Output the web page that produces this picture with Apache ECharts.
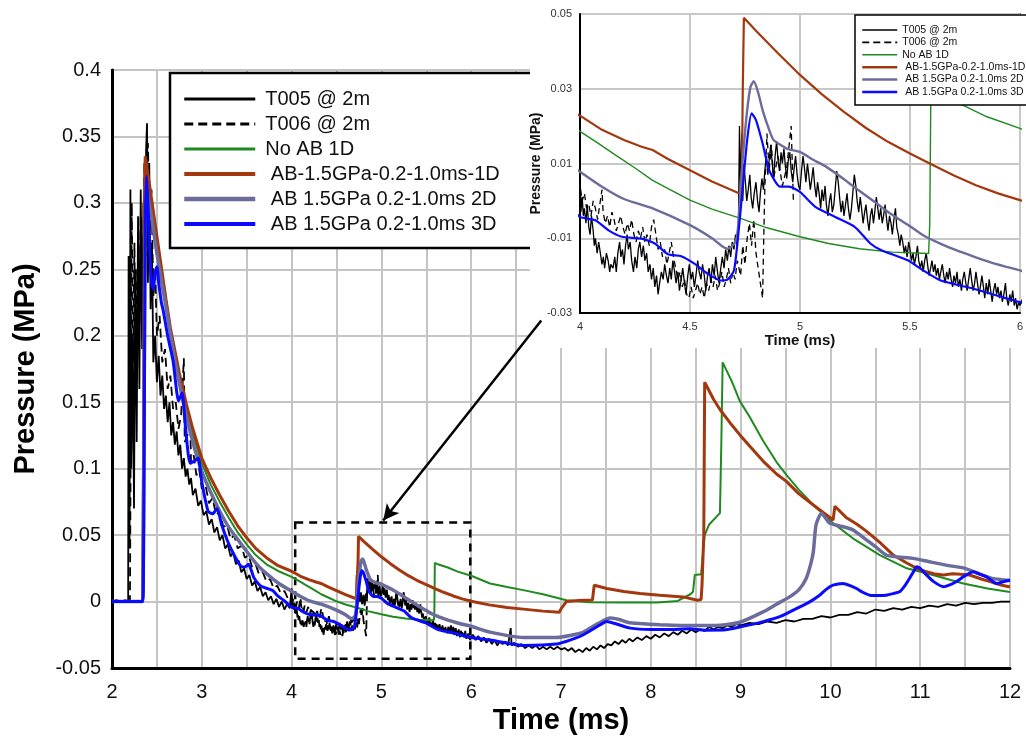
<!DOCTYPE html>
<html>
<head>
<meta charset="utf-8">
<script src="https://cdn.jsdelivr.net/npm/echarts@6.0.0/dist/echarts.min.js"></script>
<style>
  html, body { margin: 0; padding: 0; background: #fff; }
  #chart { width: 1026px; height: 742px; }
</style>
</head>
<body>
<div id="chart"></div>
<script>
// ---- Series names ----
const seriesNames = ['T005 @ 2m', 'T006 @ 2m', 'No AB 1D',
  ' AB-1.5GPa-0.2-1.0ms-1D', ' AB 1.5GPa 0.2-1.0ms 2D', ' AB 1.5GPa 0.2-1.0ms 3D'];

// ---- Measured gauge T005, [time ms, pressure MPa] ----
const t005 = [
  [2.0,0],[2.05,0.001],[2.1,0],[2.15,0.001],[2.18,0.0],[2.185,0.26],[2.195,0.04],[2.205,0.31],[2.215,0.1],[2.23,0.2],
  [2.245,0.07],[2.26,0.25],[2.275,0.12],[2.29,0.29],[2.305,0.16],[2.32,0.31],[2.335,0.19],[2.35,0.3],[2.365,0.2],[2.38,0.34],
  [2.39,0.36],[2.4,0.24],[2.415,0.33],[2.43,0.22],[2.445,0.27],[2.46,0.18],[2.48,0.2],[2.5,0.165],[2.52,0.185],[2.54,0.155],
  [2.56,0.17],[2.58,0.145],[2.6,0.155],[2.62,0.135],[2.64,0.15],[2.66,0.125],[2.68,0.135],[2.7,0.118],[2.72,0.128],[2.74,0.11],
  [2.76,0.118],[2.78,0.1],[2.8,0.108],[2.82,0.094],[2.84,0.1],[2.86,0.088],[2.88,0.093],[2.9,0.08],[2.93,0.085],[2.96,0.072],
  [2.99,0.076],[3.02,0.065],[3.05,0.068],[3.08,0.058],[3.11,0.062],[3.14,0.052],[3.17,0.056],[3.2,0.046],[3.23,0.05],[3.26,0.04],
  [3.29,0.043],[3.32,0.034],[3.35,0.037],[3.38,0.028],[3.41,0.031],[3.44,0.022],[3.47,0.025],[3.5,0.017],[3.53,0.02],[3.56,0.012],
  [3.59,0.015],[3.62,0.008],[3.65,0.011],[3.68,0.004],[3.71,0.007],[3.74,0.001],[3.77,0.004],[3.8,-0.002],[3.83,0.002],[3.86,-0.004],
  [3.89,0.0],[3.92,-0.006],[3.95,-0.002],[3.98,-0.005],
  [4.0,0.01],[4.004,-0.003],[4.01,0.001],[4.015,-0.004],[4.02,-0.002],[4.027,-0.006],[4.033,-0.001],[4.04,-0.007],[4.046,-0.009],[4.052,-0.004],
  [4.06,-0.008],[4.065,-0.012],[4.07,-0.01],[4.078,-0.014],[4.085,-0.011],[4.09,-0.013],[4.1,-0.017],[4.106,-0.015],[4.112,-0.018],[4.12,-0.014],
  [4.128,-0.016],[4.135,-0.019],[4.14,-0.017],[4.15,-0.018],[4.158,-0.015],[4.165,-0.019],[4.172,-0.014],[4.18,-0.011],[4.186,-0.015],[4.193,-0.013],
  [4.2,-0.017],[4.207,-0.012],[4.214,-0.009],[4.22,-0.013],[4.228,-0.011],[4.235,-0.016],[4.243,-0.019],[4.25,-0.015],[4.258,-0.018],[4.265,-0.013],
  [4.272,-0.011],[4.28,-0.015],[4.288,-0.012],[4.295,-0.016],[4.303,-0.014],[4.31,-0.019],[4.318,-0.017],[4.325,-0.021],[4.333,-0.018],[4.34,-0.023],
  [4.348,-0.02],[4.355,-0.025],[4.362,-0.022],[4.37,-0.019],[4.378,-0.021],[4.385,-0.017],[4.393,-0.02],[4.4,-0.022],[4.408,-0.018],[4.415,-0.021],
  [4.422,-0.016],[4.43,-0.019],[4.437,-0.022],[4.445,-0.019],[4.452,-0.024],[4.46,-0.021],[4.467,-0.018],[4.475,-0.022],[4.482,-0.025],[4.49,-0.02],
  [4.497,-0.017],[4.505,-0.021],[4.512,-0.019],[4.52,-0.023],[4.527,-0.02],[4.535,-0.016],[4.542,-0.019],[4.55,-0.021],[4.557,-0.017],[4.565,-0.02],
  [4.572,-0.024],[4.58,-0.02],[4.587,-0.018],[4.595,-0.022],[4.602,-0.017],[4.61,-0.02],[4.617,-0.015],[4.625,-0.019],[4.632,-0.022],[4.64,-0.018],
  [4.647,-0.015],[4.655,-0.018],[4.662,-0.013],[4.67,-0.016],[4.677,-0.012],[4.685,-0.015],[4.692,-0.011],[4.7,-0.013],[4.707,-0.009],[4.714,-0.012],
  [4.72,-0.008],[4.725,0.02],[4.73,0.002],[4.735,0.018],[4.74,0.0],[4.745,0.01],[4.752,0.005],[4.758,0.0],[4.765,0.003],[4.772,0.007],
  [4.778,0.001],[4.785,-0.002],[4.792,0.002],[4.8,0.005],[4.807,0.0],[4.814,-0.003],[4.82,0.002],[4.827,0.006],[4.834,0.003],[4.84,0.008],
  [4.847,0.012],[4.854,0.007],[4.86,0.011],[4.867,0.015],[4.874,0.01],[4.88,0.006],[4.887,0.012],[4.894,0.016],[4.9,0.011],[4.907,0.008],
  [4.914,0.013],[4.92,0.01],[4.927,0.014],[4.934,0.009],[4.94,0.006],[4.947,0.011],[4.954,0.013],[4.96,0.008],[4.967,0.005],[4.974,0.009],
  [4.98,0.012],[4.987,0.007],[4.994,0.004],
  [5.0,0.003],[5.007,0.008],[5.014,0.012],[5.02,0.009],[5.027,0.005],[5.034,0.01],[5.04,0.007],[5.047,0.003],[5.054,0.006],[5.06,0.009],
  [5.067,0.004],[5.074,0.001],[5.08,0.005],[5.087,0.002],[5.094,-0.002],[5.1,0.003],[5.107,0.0],[5.114,0.004],[5.12,-0.001],[5.127,-0.004],
  [5.134,0.0],[5.14,0.002],[5.147,-0.003],[5.154,-0.001],[5.16,0.003],[5.167,0.008],[5.174,0.005],[5.18,0.001],[5.187,-0.003],[5.194,0.0],
  [5.2,-0.004],[5.207,-0.001],[5.214,0.002],[5.22,-0.002],[5.227,-0.005],[5.234,-0.002],[5.24,0.002],[5.247,0.007],[5.254,0.004],[5.26,0.0],
  [5.267,-0.003],[5.274,0.001],[5.28,-0.002],[5.287,-0.006],[5.294,-0.003],[5.3,-0.001],[5.307,-0.005],[5.314,-0.008],[5.32,-0.004],[5.327,-0.002],
  [5.334,-0.006],[5.34,-0.003],[5.347,0.001],[5.354,-0.002],[5.36,-0.005],[5.367,-0.002],[5.374,-0.006],[5.38,-0.004],[5.387,-0.001],[5.394,-0.005],
  [5.4,-0.008],[5.407,-0.004],[5.414,-0.006],[5.42,-0.009],[5.427,-0.005],[5.434,-0.002],[5.44,-0.007],[5.447,-0.009],[5.454,-0.012],[5.46,-0.009],
  [5.467,-0.011],[5.474,-0.014],[5.48,-0.012],[5.487,-0.015],[5.494,-0.011],[5.5,-0.013],[5.507,-0.016],[5.514,-0.014],[5.52,-0.017],[5.527,-0.015],
  [5.534,-0.012],[5.54,-0.016],[5.547,-0.018],[5.554,-0.016],[5.56,-0.019],[5.567,-0.016],[5.574,-0.014],[5.58,-0.017],[5.587,-0.02],[5.594,-0.018],
  [5.6,-0.016],[5.607,-0.019],[5.614,-0.017],[5.62,-0.02],[5.627,-0.018],[5.634,-0.021],[5.64,-0.019],[5.647,-0.017],[5.654,-0.02],[5.66,-0.022],
  [5.667,-0.019],[5.674,-0.021],[5.68,-0.018],[5.687,-0.021],[5.694,-0.023],[5.7,-0.02],[5.707,-0.022],[5.714,-0.019],[5.72,-0.023],[5.727,-0.021],
  [5.734,-0.024],[5.74,-0.021],[5.747,-0.019],[5.754,-0.022],[5.76,-0.024],[5.767,-0.021],[5.774,-0.018],[5.78,-0.021],[5.787,-0.024],[5.794,-0.022],
  [5.8,-0.019],[5.807,-0.022],[5.814,-0.025],[5.82,-0.023],[5.827,-0.02],[5.834,-0.023],[5.84,-0.026],[5.847,-0.022],[5.854,-0.025],[5.86,-0.021],
  [5.867,-0.024],[5.874,-0.027],[5.88,-0.024],[5.887,-0.022],[5.894,-0.025],[5.9,-0.023],[5.907,-0.026],[5.914,-0.024],[5.92,-0.027],[5.927,-0.025],
  [5.934,-0.022],[5.94,-0.026],[5.947,-0.028],[5.954,-0.025],[5.96,-0.027],[5.967,-0.024],[5.974,-0.028],[5.98,-0.026],[5.987,-0.029],[5.994,-0.027],
  [6.0,-0.028],
  [6.02,-0.025],[6.05,-0.029],[6.08,-0.026],[6.11,-0.03],[6.14,-0.027],[6.17,-0.031],[6.2,-0.028],[6.23,-0.032],[6.26,-0.029],[6.29,-0.033],
  [6.32,-0.03],[6.35,-0.032],[6.38,-0.03],[6.41,-0.033],[6.44,-0.02],[6.45,-0.033],[6.48,-0.031],[6.52,-0.034],[6.56,-0.032],[6.6,-0.035],
  [6.64,-0.033],[6.68,-0.035],[6.72,-0.033],[6.76,-0.036],[6.8,-0.034],[6.84,-0.036],[6.88,-0.034],[6.92,-0.036],[6.96,-0.034],[7.0,-0.036],
  [7.04,-0.035],[7.08,-0.037],[7.12,-0.035],[7.16,-0.038],[7.2,-0.036],[7.24,-0.038],[7.28,-0.035],[7.32,-0.037],[7.36,-0.034],[7.4,-0.036],
  [7.44,-0.033],[7.48,-0.035],[7.52,-0.032],[7.56,-0.033],[7.6,-0.03],[7.64,-0.032],[7.68,-0.029],[7.72,-0.031],[7.76,-0.028],[7.8,-0.03],
  [7.85,-0.027],[7.9,-0.029],[7.95,-0.026],[8.0,-0.028],[8.05,-0.025],[8.1,-0.027],[8.15,-0.024],[8.2,-0.026],[8.25,-0.023],[8.3,-0.025],
  [8.35,-0.022],[8.4,-0.024],[8.45,-0.021],[8.5,-0.023],[8.55,-0.021],[8.6,-0.022],[8.65,-0.019],[8.7,-0.021],[8.75,-0.019],[8.8,-0.02],
  [8.85,-0.018],[8.9,-0.019],[8.95,-0.017],[9.0,-0.018],[9.1,-0.016],[9.2,-0.017],[9.3,-0.015],[9.4,-0.016],[9.5,-0.014],[9.6,-0.015],
  [9.7,-0.013],[9.8,-0.013],[9.9,-0.011],[10.0,-0.012],[10.1,-0.01],[10.2,-0.01],[10.3,-0.008],[10.4,-0.009],[10.5,-0.006],[10.6,-0.007],
  [10.7,-0.005],[10.8,-0.006],[10.9,-0.004],[11.0,-0.005],[11.1,-0.003],[11.2,-0.004],[11.3,-0.002],[11.4,-0.003],[11.5,-0.001],[11.6,-0.002],
  [11.7,-0.001],[11.8,-0.001],[11.9,0.0],[12.0,0.0]
];

// ---- Measured gauge T006 (record ends near 5 ms) ----
const t006 = [
  [2.0,0],[2.1,0],[2.2,0.001],[2.215,0.002],[2.22,0.3],[2.235,0.18],[2.25,0.27],[2.265,0.15],[2.28,0.25],[2.3,0.19],
  [2.32,0.29],[2.34,0.21],[2.36,0.33],[2.38,0.26],[2.4,0.345],[2.42,0.28],[2.44,0.31],[2.46,0.23],[2.48,0.25],[2.5,0.2],
  [2.53,0.215],[2.56,0.18],[2.59,0.19],[2.62,0.16],[2.65,0.17],[2.68,0.145],[2.71,0.15],[2.74,0.13],[2.77,0.14],[2.8,0.183],
  [2.81,0.12],[2.84,0.125],[2.87,0.136],[2.88,0.105],[2.91,0.11],[2.94,0.095],[2.97,0.1],[3.0,0.085],[3.04,0.088],[3.08,0.074],
  [3.12,0.078],[3.16,0.065],[3.2,0.068],[3.24,0.056],[3.28,0.058],[3.32,0.047],[3.36,0.05],[3.4,0.04],[3.44,0.042],[3.48,0.033],
  [3.52,0.035],[3.56,0.026],[3.6,0.028],[3.64,0.02],[3.68,0.022],[3.72,0.015],[3.76,0.017],[3.8,0.01],[3.84,0.012],[3.88,0.006],
  [3.92,0.008],[3.96,0.002],
  [4.0,0.004],[4.01,0.0],[4.02,0.002],[4.03,-0.002],[4.04,-0.001],[4.05,-0.004],[4.06,0.0],[4.07,-0.002],[4.08,-0.005],[4.09,-0.001],
  [4.1,0.003],[4.105,-0.003],[4.115,-0.006],[4.125,-0.004],[4.135,-0.007],[4.145,-0.003],[4.155,-0.005],[4.165,-0.008],[4.175,-0.006],[4.185,-0.004],
  [4.195,-0.007],[4.205,-0.009],[4.215,-0.006],[4.225,-0.008],[4.235,-0.005],[4.245,-0.009],[4.255,-0.011],[4.265,-0.008],[4.275,-0.01],[4.285,-0.007],
  [4.295,-0.011],[4.305,-0.009],[4.315,-0.012],[4.325,-0.007],[4.335,-0.005],[4.345,-0.009],[4.355,-0.013],[4.365,-0.011],[4.375,-0.015],[4.385,-0.013],
  [4.395,-0.017],[4.405,-0.014],[4.415,-0.011],[4.425,-0.015],[4.435,-0.018],[4.445,-0.021],[4.455,-0.019],[4.465,-0.023],[4.475,-0.021],[4.485,-0.025],
  [4.495,-0.026],[4.505,-0.023],[4.515,-0.026],[4.525,-0.024],[4.535,-0.022],[4.545,-0.025],[4.555,-0.023],[4.565,-0.026],[4.575,-0.022],[4.585,-0.024],
  [4.595,-0.021],[4.605,-0.023],[4.615,-0.02],[4.625,-0.024],[4.635,-0.022],[4.645,-0.019],[4.655,-0.023],[4.665,-0.021],[4.675,-0.018],[4.685,-0.022],
  [4.695,-0.019],[4.705,-0.021],[4.715,-0.016],[4.73,-0.02],[4.74,-0.012],[4.75,-0.017],[4.76,-0.01],[4.77,-0.006],[4.78,-0.012],[4.79,-0.005],
  [4.8,-0.014],[4.81,-0.018],[4.82,-0.022],[4.83,-0.026],[4.835,-0.011],[4.84,0.003],[4.85,0.018],[4.86,0.008],[4.87,0.015],[4.88,0.006],
  [4.9,0.012],[4.92,0.004],[4.94,0.009],[4.96,0.02],[4.97,0.0]
];

// ---- No air-blast, 1D model ----
const noAB1D = [
  [2.0,0],[2.2,0],[2.34,0],[2.35,0.1],[2.36,0.29],[2.37,0.325],[2.4,0.312],[2.5,0.27],[2.6,0.225],[2.65,0.204],
  [2.75,0.168],[2.83,0.144],[2.9,0.126],[3.0,0.104],[3.1,0.088],[3.2,0.075],[3.3,0.063],[3.4,0.052],[3.5,0.043],[3.6,0.035],
  [3.72,0.028],[3.85,0.023],[4.0,0.0186],[4.08,0.0155],[4.15,0.0127],[4.25,0.0088],[4.33,0.0055],[4.42,0.0027],[4.5,0.0002],[4.6,-0.0022],
  [4.73,-0.0047],[4.85,-0.0072],[5.0,-0.0096],[5.13,-0.0114],[5.27,-0.0128],[5.42,-0.0137],[5.585,-0.0141],[5.59,-0.006],[5.595,0.029],[5.62,0.0283],
  [5.74,0.0256],[5.85,0.0225],[6.0,0.0194],[6.21,0.0136],[6.4,0.011],[6.58,0.0086],[6.8,0.0055],[7.06,0.001],[7.32,-0.0005],[7.7,-0.0008],
  [8.07,-0.0008],[8.3,0.0005],[8.44,0.0055],[8.47,0.0074],[8.49,0.02],[8.56,0.0205],[8.58,0.036],[8.6,0.05],[8.65,0.058],[8.77,0.0665],
  [8.785,0.118],[8.8,0.18],[8.9,0.166],[8.99,0.151],[9.1,0.139],[9.25,0.121],[9.4,0.105],[9.51,0.0954],[9.65,0.084],[9.81,0.0727],
  [10.03,0.059],[10.25,0.0476],[10.55,0.035],[10.85,0.025],[11.14,0.02],[11.48,0.0136],[11.75,0.0098],[11.98,0.0073],[12.0,0.0072]
];

// ---- Air-blast 1.5 GPa, 1D model ----
const ab1D = [
  [2.0,0],[2.2,0],[2.34,0],[2.35,0.1],[2.36,0.3],[2.37,0.335],[2.4,0.322],[2.5,0.275],[2.6,0.228],[2.65,0.206],
  [2.75,0.172],[2.83,0.148],[2.9,0.13],[3.0,0.108],[3.1,0.093],[3.2,0.08],[3.3,0.068],[3.4,0.057],[3.5,0.048],[3.6,0.04],
  [3.72,0.033],[3.85,0.027],[4.0,0.0228],[4.1,0.019],[4.2,0.0163],[4.28,0.0145],[4.33,0.0136],[4.4,0.0112],[4.5,0.0082],[4.6,0.0052],
  [4.72,0.0021],[4.735,0.0025],[4.74,0.03],[4.745,0.049],[4.8,0.0455],[4.9,0.0395],[5.0,0.0337],[5.1,0.0285],[5.2,0.0238],[5.3,0.0195],
  [5.4,0.0158],[5.5,0.0127],[5.59,0.01],[5.7,0.0068],[5.8,0.0042],[5.9,0.002],[6.0,0.0002],[6.2,-0.0025],[6.4,-0.0045],[6.58,-0.0057],
  [6.8,-0.0072],[6.98,-0.008],[7.01,-0.0045],[7.06,0.0],[7.2,0.0008],[7.35,0.0012],[7.37,0.0123],[7.51,0.0098],[7.7,0.0075],[7.88,0.006],
  [8.1,0.0047],[8.36,0.0035],[8.52,0.001],[8.56,0.0015],[8.57,0.012],[8.59,0.05],[8.6,0.165],[8.7,0.152],[8.77,0.1445],[8.9,0.133],
  [8.99,0.1256],[9.1,0.117],[9.25,0.1057],[9.4,0.096],[9.51,0.0904],[9.65,0.081],[9.81,0.0727],[9.92,0.067],[10.03,0.0614],[10.05,0.0717],
  [10.18,0.063],[10.3,0.058],[10.4,0.053],[10.55,0.0445],[10.7,0.035],[10.85,0.029],[11.0,0.0237],[11.15,0.021],[11.26,0.02],[11.36,0.021],
  [11.45,0.0205],[11.55,0.02],[11.68,0.017],[11.78,0.015],[11.9,0.0125],[12.0,0.011]
];

// ---- Air-blast 1.5 GPa, 2D model ----
const ab2D = [
  [2.0,0],[2.2,0],[2.34,0],[2.35,0.05],[2.365,0.25],[2.38,0.315],[2.4,0.305],[2.45,0.285],[2.5,0.262],[2.6,0.222],
  [2.7,0.182],[2.8,0.148],[2.9,0.12],[3.0,0.098],[3.1,0.082],[3.2,0.068],[3.3,0.056],[3.43,0.044],[3.6,0.029],[3.72,0.021],
  [3.85,0.014],[4.0,0.0078],[4.1,0.0038],[4.2,0.0005],[4.33,-0.002],[4.5,-0.0065],[4.6,-0.01],[4.65,-0.0123],[4.67,-0.0128],[4.69,-0.0122],
  [4.71,-0.0105],[4.72,-0.006],[4.73,0.0037],[4.745,0.015],[4.76,0.0243],[4.775,0.0305],[4.79,0.032],[4.81,0.029],[4.83,0.0243],[4.86,0.019],
  [4.88,0.0163],[4.94,0.014],[5.0,0.0131],[5.06,0.011],[5.12,0.0091],[5.2,0.0058],[5.265,0.0029],[5.34,-0.0003],[5.41,-0.0034],[5.5,-0.0068],
  [5.56,-0.0092],[5.64,-0.0115],[5.71,-0.0132],[5.79,-0.0149],[5.86,-0.0163],[5.93,-0.0175],[6.0,-0.0186],[6.21,-0.023],[6.58,-0.027],[6.95,-0.027],
  [7.1,-0.0255],[7.25,-0.023],[7.4,-0.017],[7.55,-0.0124],[7.65,-0.0135],[7.75,-0.0158],[7.88,-0.0166],[8.1,-0.0175],[8.33,-0.018],[8.6,-0.018],
  [8.81,-0.0176],[9.0,-0.0154],[9.25,-0.0078],[9.4,-0.002],[9.55,0.0037],[9.65,0.009],[9.73,0.0174],[9.78,0.028],[9.81,0.0375],[9.84,0.0576],
  [9.9,0.0665],[9.99,0.059],[10.1,0.057],[10.25,0.054],[10.35,0.049],[10.48,0.0425],[10.62,0.035],[10.75,0.0335],[10.92,0.0325],[11.1,0.03],
  [11.29,0.0274],[11.5,0.025],[11.65,0.021],[11.8,0.0174],[11.9,0.0165],[12.0,0.016]
];

// ---- Air-blast 1.5 GPa, 3D model ----
const ab3D = [
  [2.0,0],[2.2,0],[2.34,0],[2.35,0.02],[2.36,0.13],[2.37,0.28],[2.385,0.32],[2.4,0.3],[2.42,0.265],[2.44,0.24],
  [2.46,0.235],[2.48,0.248],[2.5,0.252],[2.52,0.24],[2.55,0.225],[2.57,0.219],[2.62,0.2],[2.68,0.181],[2.72,0.158],[2.74,0.151],
  [2.78,0.157],[2.82,0.13],[2.87,0.104],[2.92,0.106],[2.96,0.108],[3.0,0.09],[3.07,0.068],[3.12,0.066],[3.17,0.07],[3.22,0.058],
  [3.29,0.045],[3.36,0.035],[3.43,0.027],[3.48,0.026],[3.52,0.028],[3.58,0.018],[3.65,0.012],[3.72,0.01],[3.79,0.0083],[3.85,0.004],
  [3.92,0.0005],[4.0,-0.0043],[4.07,-0.0052],[4.13,-0.0079],[4.19,-0.0096],[4.28,-0.0101],[4.34,-0.0114],[4.4,-0.0143],[4.46,-0.0148],[4.52,-0.0168],
  [4.58,-0.0195],[4.64,-0.0213],[4.67,-0.0211],[4.7,-0.0186],[4.72,-0.0088],[4.74,0.0037],[4.76,0.0163],[4.78,0.0234],[4.8,0.0216],[4.83,0.0154],
  [4.86,0.0082],[4.91,0.0038],[4.95,0.0038],[5.0,0.0024],[5.07,-0.0016],[5.16,-0.0043],[5.25,-0.007],[5.32,-0.0114],[5.37,-0.0132],[5.49,-0.0159],
  [5.56,-0.0186],[5.64,-0.0213],[5.79,-0.0235],[6.0,-0.0271],[6.21,-0.029],[6.58,-0.033],[6.95,-0.032],[7.1,-0.029],[7.25,-0.025],[7.4,-0.019],
  [7.51,-0.015],[7.6,-0.0165],[7.77,-0.02],[8.0,-0.021],[8.2,-0.021],[8.44,-0.0205],[8.6,-0.0215],[8.81,-0.0214],[9.0,-0.019],[9.25,-0.0151],
  [9.45,-0.011],[9.62,-0.0053],[9.75,-0.001],[9.88,0.0048],[9.95,0.009],[10.03,0.0123],[10.14,0.0136],[10.22,0.012],[10.29,0.0098],[10.36,0.007],
  [10.44,0.0048],[10.55,0.0045],[10.62,0.0048],[10.7,0.006],[10.77,0.0073],[10.83,0.012],[10.88,0.0174],[10.93,0.023],[10.96,0.0262],[11.0,0.025],
  [11.07,0.02],[11.15,0.015],[11.26,0.0111],[11.33,0.0125],[11.4,0.0149],[11.5,0.0195],[11.59,0.0224],[11.65,0.021],[11.74,0.0186],[11.85,0.0136],
  [11.93,0.015],[12.0,0.016]
];

// ---- Zoom window (time ms / pressure MPa) and pointer arrow ends ----
const zoomBox = { t0: 4.04, t1: 5.99, p0: -0.043, p1: 0.0595 };
const arrowFrom = [6.78, 0.2115];
const arrowTo = [5.02, 0.061];

const seriesData = [t005, t006, noAB1D, ab1D, ab2D, ab3D];
const colors = ['#000000', '#000000', '#1f8a1f', '#a3380e', '#6c6c9c', '#0a0aff'];
const mainWidths = [1.8, 1.8, 2, 3, 3.5, 3];
const insetWidths = [1.3, 1.3, 1.4, 2.2, 2.4, 2.2];
const smoothing = [false, false, false, false, 0.2, 0.2];

const sans = "'Liberation Sans', Arial, sans-serif";
const gridLine = { color: '#c4c4c4', width: 2 };
// legend entries draw only the line sample, no point marker
const hiddenMarker = { opacity: 0, color: 'rgba(0,0,0,0)', borderWidth: 0 };

const series = [];
seriesData.forEach((d, i) => {
  series.push({
    name: seriesNames[i], type: 'line', data: d,
    xAxisIndex: 0, yAxisIndex: 0, symbol: 'none', showSymbol: false,
    smooth: smoothing[i], animation: false, z: 2,
    lineStyle: { color: colors[i], width: mainWidths[i], type: i === 1 ? [9, 5] : 'solid' },
    itemStyle: { color: colors[i] }
  });
});
seriesData.forEach((d, i) => {
  series.push({
    name: seriesNames[i], type: 'line', data: d,
    xAxisIndex: 1, yAxisIndex: 1, symbol: 'none', showSymbol: false,
    smooth: smoothing[i], animation: false, clip: true, z: 7,
    lineStyle: { color: colors[i], width: insetWidths[i], type: i === 1 ? [6, 4] : 'solid' },
    itemStyle: { color: colors[i] }
  });
});
// dashed zoom window and arrow pointing at it
series.push({
  name: 'zoom window', type: 'line', data: [], xAxisIndex: 0, yAxisIndex: 0,
  z: 10, animation: false, silent: true,
  markArea: {
    silent: true,
    itemStyle: { color: 'rgba(0,0,0,0)', borderColor: '#000', borderWidth: 2.5, borderType: [8, 6] },
    data: [[{ coord: [zoomBox.t0, zoomBox.p1] }, { coord: [zoomBox.t1, zoomBox.p0] }]]
  },
  markLine: {
    silent: true, symbol: ['none', 'arrow'], symbolSize: [12, 16],
    label: { show: false },
    lineStyle: { color: '#000', width: 2.5, type: 'solid' },
    data: [[{ coord: arrowFrom }, { coord: arrowTo }]]
  }
});

const mainLegendWidths = [3, 3, 3, 4, 4.5, 4];

const option = {
  backgroundColor: '#fff',
  animation: false,
  graphic: [{
    type: 'rect', z: 5, silent: true,
    shape: { x: 530, y: 0, width: 496, height: 348 },
    style: { fill: '#fff' }
  }],
  grid: [
    { left: 112, right: 16, top: 70, bottom: 74, show: true, borderColor: '#000', borderWidth: 2 },
    { left: 580, right: 0, top: 14, bottom: 429, show: true, backgroundColor: '#fff',
      borderColor: '#000', borderWidth: 1.5, z: 6 }
  ],
  xAxis: [
    {
      gridIndex: 0, type: 'value', min: 2, max: 12, interval: 1,
      name: 'Time (ms)', nameLocation: 'middle', nameGap: 34,
      nameTextStyle: { fontFamily: sans, fontWeight: 'bold', fontSize: 29, color: '#000' },
      axisLine: { show: true, onZero: false, lineStyle: { color: '#000', width: 3 } },
      axisTick: { show: false },
      axisLabel: { fontFamily: sans, fontSize: 20, color: '#111', margin: 14 },
      splitLine: { show: true, lineStyle: gridLine },
      minorTick: { show: false, splitNumber: 2 },
      minorSplitLine: { show: true, lineStyle: gridLine }
    },
    {
      gridIndex: 1, type: 'value', min: 4, max: 6, interval: 0.5, z: 6,
      name: 'Time (ms)', nameLocation: 'middle', nameGap: 17,
      nameTextStyle: { fontFamily: sans, fontWeight: 'bold', fontSize: 15, color: '#111' },
      axisLine: { show: true, onZero: false, lineStyle: { color: '#000', width: 2 } },
      axisTick: { show: false },
      axisLabel: { fontFamily: sans, fontSize: 11, color: '#333', margin: 8 },
      splitLine: { show: true, lineStyle: { color: '#c8c8c8', width: 2 } }
    }
  ],
  yAxis: [
    {
      gridIndex: 0, type: 'value', min: -0.05, max: 0.4, interval: 0.05,
      name: 'Pressure (MPa)', nameLocation: 'middle', nameGap: 72,
      nameTextStyle: { fontFamily: sans, fontWeight: 'bold', fontSize: 29, color: '#000' },
      axisLine: { show: true, onZero: false, lineStyle: { color: '#000', width: 3 } },
      axisTick: { show: false },
      axisLabel: { fontFamily: sans, fontSize: 20, color: '#111', margin: 11 },
      splitLine: { show: true, lineStyle: gridLine }
    },
    {
      gridIndex: 1, type: 'value', min: -0.03, max: 0.05, interval: 0.02, z: 6,
      name: 'Pressure (MPa)', nameLocation: 'middle', nameGap: 36,
      nameTextStyle: { fontFamily: sans, fontWeight: 'bold', fontSize: 14, color: '#111' },
      axisLine: { show: true, onZero: false, lineStyle: { color: '#000', width: 2 } },
      axisTick: { show: false },
      axisLabel: { fontFamily: sans, fontSize: 11, color: '#333', margin: 8 },
      splitLine: { show: true, lineStyle: { color: '#c8c8c8', width: 2 } }
    }
  ],
  legend: [
    {
      left: 170, top: 73, orient: 'vertical', z: 3, selectedMode: false,
      backgroundColor: '#fff', borderColor: '#000', borderWidth: 2.5,
      padding: [15, 40, 13, 12], itemWidth: 71, itemHeight: 14, itemGap: 3,
      itemStyle: hiddenMarker,
      textStyle: { fontFamily: sans, fontSize: 20, color: '#111', lineHeight: 22, padding: [0, 0, 0, 5] },
      data: seriesNames.map((n, i) => ({ name: n, itemStyle: hiddenMarker, lineStyle: { width: mainLegendWidths[i] } }))
    },
    {
      left: 855, top: 15, orient: 'vertical', z: 8, selectedMode: false,
      backgroundColor: '#fff', borderColor: '#000', borderWidth: 1.5,
      padding: [9, 12, 7, 6], itemWidth: 35, itemHeight: 8, itemGap: 0.4,
      itemStyle: hiddenMarker,
      textStyle: { fontFamily: sans, fontSize: 10.5, color: '#111', lineHeight: 12, padding: [0, 0, 0, 0] },
      data: seriesNames.map((n, i) => ({ name: n, itemStyle: hiddenMarker, lineStyle: { width: i >= 3 ? 2.5 : 1.6, type: i === 1 ? [7, 4] : 'solid' } }))
    }
  ],
  series: series
};

const chart = echarts.init(document.getElementById('chart'), null, { renderer: 'canvas' });
chart.setOption(option);
</script>
</body>
</html>
